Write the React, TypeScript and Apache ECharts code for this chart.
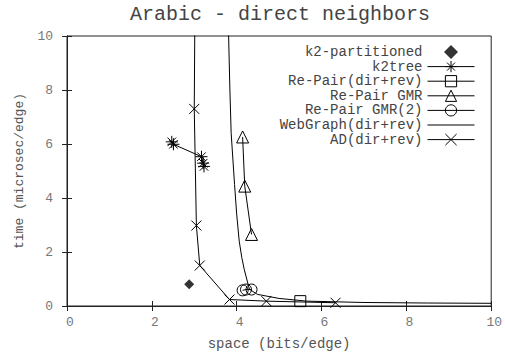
import React, { useEffect, useRef } from "react";
import * as echarts from "echarts";

const titleText = "Arabic - direct neighbors";
const xAxisName = "space (bits/edge)";
const yAxisName = "time (microsec/edge)";

const k2PartX = [2.88];
const k2PartY = [0.81];

const k2treeX = [2.47, 2.51, 3.17, 3.21, 3.23];
const k2treeY = [6.08, 5.99, 5.53, 5.29, 5.17];

const rePairDirRevX = [5.5];
const rePairDirRevY = [0.18];

const rePairGmrX = [4.14, 4.19, 4.35];
const rePairGmrY = [6.26, 4.44, 2.65];

const rePairGmr2X = [4.14, 4.22, 4.35];
const rePairGmr2Y = [0.58, 0.61, 0.61];

const webGraphX = [3.79, 3.81, 3.84, 3.87, 3.95, 4.0, 4.06, 4.12, 4.18, 4.3, 4.49, 5.0, 5.65, 7.0, 8.5, 10.0];
const webGraphY = [12, 10, 8, 6.4, 4.5, 3.4, 2.4, 1.8, 1.34, 0.62, 0.43, 0.28, 0.18, 0.13, 0.11, 0.1];

const adX = [6.33, 4.7, 3.83, 3.13, 3.05, 3.0, 3.02];
const adY = [0.12, 0.18, 0.24, 1.5, 2.98, 7.3, 12];

const seriesNames = [
  "k2-partitioned",
  "k2tree",
  "Re-Pair(dir+rev)",
  "Re-Pair GMR",
  "Re-Pair GMR(2)",
  "WebGraph(dir+rev)",
  "AD(dir+rev)",
];

const FONT = "'Liberation Mono', 'DejaVu Sans Mono', monospace";

const zip = (xs: number[], ys: number[]) => xs.map((x, i) => [x, ys[i]]);

const CROSS = "path://M0,0L10,10M10,0L0,10";
const ASTER = "path://M0,0L10,10M10,0L0,10M5,-2L5,12M-2,5L12,5";
const DIAMOND = "path://M5,0L10,5L5,10L0,5Z";
const HLINE = "path://M0,0L100,0L100,2L0,2Z";

export default function App() {
  const ref = useRef<HTMLDivElement>(null);
  useEffect(() => {
    if (!ref.current) return;
    const chart = echarts.init(ref.current, null, { renderer: "svg" });
    const open = {
      color: "rgba(0,0,0,0)",
      borderColor: "#000",
      borderWidth: 1,
    };
    const lineStyle = { color: "#000", width: 1 };
    const common = {
      type: "line" as const,
      color: "#000",
      lineStyle,
      silent: true,
      clip: true,
      showSymbol: true,
      emphasis: { disabled: true },
    };
    const legendOpen = { itemStyle: open, lineStyle: { color: "#000", width: 1 } };
    chart.setOption({
      animation: false,
      title: {
        text: titleText,
        left: 280,
        textAlign: "center",
        top: 4,
        padding: 0,
        textStyle: { fontFamily: FONT, fontSize: 20, fontWeight: "normal", color: "#444" },
      },
      grid: {
        left: 67,
        right: 8,
        top: 36,
        bottom: 46,
        show: true,
        borderColor: "#222",
        borderWidth: 1,
      },
      legend: {
        orient: "vertical",
        right: 25,
        top: 40,
        align: "right",
        itemWidth: 47,
        itemHeight: 14,
        itemGap: 0.6,
        selectedMode: false,
        symbolKeepAspect: true,
        textStyle: { fontFamily: FONT, fontSize: 14, color: "#444", lineHeight: 14 },
        data: [
          { name: seriesNames[0], icon: DIAMOND, itemStyle: { color: "#000", borderWidth: 0 } },
          { name: seriesNames[1], ...legendOpen },
          { name: seriesNames[2], ...legendOpen },
          { name: seriesNames[3], ...legendOpen },
          { name: seriesNames[4], ...legendOpen },
          { name: seriesNames[5], icon: HLINE, itemStyle: { color: "#000", borderWidth: 0 } },
          { name: seriesNames[6], ...legendOpen },
        ],
      },
      xAxis: [
        {
          type: "value",
          min: 0,
          max: 10,
          interval: 2,
          name: xAxisName,
          nameLocation: "middle",
          nameGap: 31,
          nameTextStyle: { fontFamily: FONT, fontSize: 14, color: "#555" },
          axisLine: { show: true, lineStyle: { color: "#222" } },
          axisTick: { show: true, inside: true, length: 5, lineStyle: { color: "#222" } },
          axisLabel: { fontFamily: FONT, fontSize: 13, color: "#777", margin: 10, padding: [0, 0, 0, 6] },
          splitLine: { show: false },
        },
        {
          type: "value",
          position: "top",
          min: 0,
          max: 10,
          interval: 2,
          axisLine: { show: true, lineStyle: { color: "#222" } },
          axisTick: { show: true, inside: true, length: 5, lineStyle: { color: "#222" } },
          axisLabel: { show: false },
          splitLine: { show: false },
        },
      ],
      yAxis: [
        {
          type: "value",
          min: 0,
          max: 10,
          interval: 2,
          name: yAxisName,
          nameLocation: "middle",
          nameGap: 40,
          nameTextStyle: { fontFamily: FONT, fontSize: 13, color: "#555" },
          axisLine: { show: true, lineStyle: { color: "#222" } },
          axisTick: { show: true, inside: true, length: 5, lineStyle: { color: "#222" } },
          axisLabel: { fontFamily: FONT, fontSize: 13, color: "#777", margin: 14 },
          splitLine: { show: false },
        },
        {
          type: "value",
          position: "right",
          min: 0,
          max: 10,
          interval: 2,
          axisLine: { show: true, lineStyle: { color: "#222" } },
          axisTick: { show: true, inside: true, length: 5, lineStyle: { color: "#222" } },
          axisLabel: { show: false },
          splitLine: { show: false },
        },
      ],
      series: [
        {
          name: seriesNames[0],
          type: "scatter",
          color: "#000",
          silent: true,
          symbol: "diamond",
          symbolSize: 10,
          itemStyle: { color: "#000" },
          data: zip(k2PartX, k2PartY),
        },
        {
          ...common,
          name: seriesNames[1],
          symbol: ASTER,
          symbolSize: 12,
          itemStyle: open,
          data: zip(k2treeX, k2treeY),
        },
        {
          ...common,
          name: seriesNames[2],
          symbol: "rect",
          symbolSize: 11,
          itemStyle: open,
          data: zip(rePairDirRevX, rePairDirRevY),
        },
        {
          ...common,
          name: seriesNames[3],
          symbol: "triangle",
          symbolSize: 12,
          itemStyle: open,
          data: zip(rePairGmrX, rePairGmrY),
        },
        {
          ...common,
          name: seriesNames[4],
          symbol: "circle",
          symbolSize: 11,
          itemStyle: open,
          data: zip(rePairGmr2X, rePairGmr2Y),
        },
        {
          ...common,
          name: seriesNames[5],
          symbol: "none",
          showSymbol: false,
          data: zip(webGraphX, webGraphY),
        },
        {
          ...common,
          name: seriesNames[6],
          symbol: CROSS,
          symbolSize: 10,
          itemStyle: open,
          data: zip(adX, adY),
        },
      ],
    });
    return () => chart.dispose();
  }, []);
  return <div ref={ref} style={{ width: 505, height: 356, position: "absolute", left: 0, top: 0 }} />;
}
